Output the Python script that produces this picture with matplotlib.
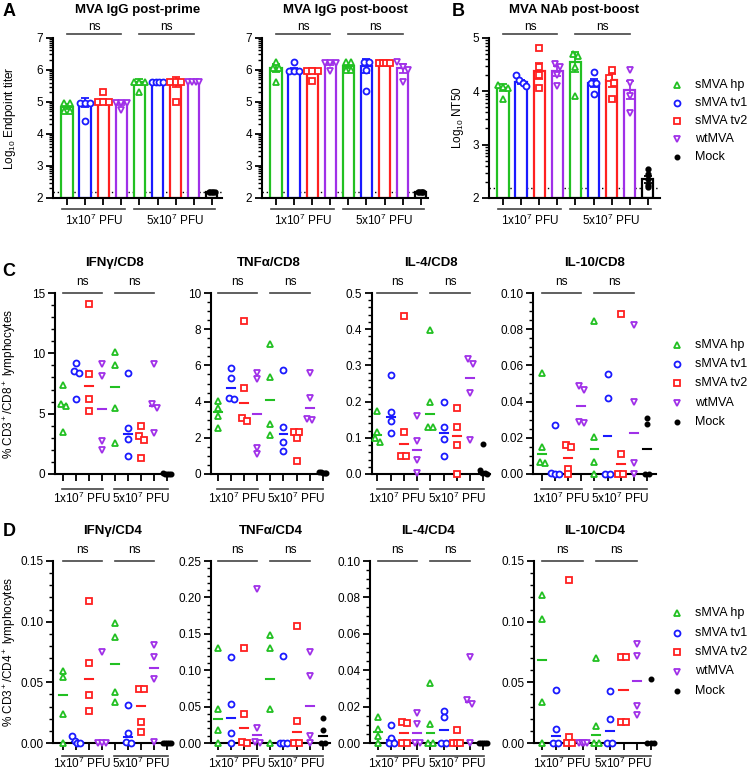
import numpy as np
import matplotlib.pyplot as plt
from matplotlib.lines import Line2D
from matplotlib.ticker import MultipleLocator, FixedLocator, FormatStrFormatter

plt.rcParams['font.family'] = ['Liberation Sans', 'DejaVu Sans']
plt.rcParams['mathtext.fontset'] = 'custom'
plt.rcParams['mathtext.rm'] = 'Liberation Sans'
plt.rcParams['mathtext.it'] = 'Liberation Sans:italic'
plt.rcParams['mathtext.bf'] = 'Liberation Sans:bold'

W, H = 750, 772

groups = ['sMVA hp', 'sMVA tv1', 'sMVA tv2', 'wtMVA', 'Mock']
colors = ['#22c022', '#1a1aff', '#ff2020', '#a030e8', 'black']
markers = ['^', 'o', 's', 'v', 'o']
doses = ['1x10$^7$ PFU', '5x10$^7$ PFU']

# order of each list: 1e7 hp, tv1, tv2, wtMVA | 5e7 hp, tv1, tv2, wtMVA | mock
igg_prime = [[4.97, 4.97, 4.72, 4.72], [4.97, 4.97, 4.97, 4.4], [5.3, 5.0, 5.0, 5.0], [4.97, 4.97, 4.97, 4.75],
             [5.62, 5.62, 5.62, 5.3], [5.62, 5.62, 5.62, 5.62], [5.62, 5.62, 5.62, 5.0], [5.62, 5.62, 5.62, 5.62],
             [2.2, 2.2, 2.2, 2.2, 2.2]]
igg_boost = [[6.25, 6.05, 6.05, 5.63], [6.25, 5.97, 5.97, 5.97], [5.97, 5.97, 5.97, 5.65], [6.22, 6.22, 6.22, 5.95],
             [6.25, 6.25, 6.0, 6.0], [6.25, 6.25, 6.0, 5.35], [6.22, 6.22, 6.22, 6.22], [6.24, 6.09, 5.99, 5.62],
             [2.2, 2.2, 2.2, 2.2, 2.2]]
nab_boost = [[4.12, 4.08, 4.05, 3.85], [4.3, 4.2, 4.15, 4.1], [4.8, 4.45, 4.3, 4.05], [4.5, 4.45, 4.3, 4.1],
             [4.7, 4.65, 4.45, 3.9], [4.35, 4.15, 4.15, 3.95], [4.4, 4.25, 4.15, 3.85], [4.4, 4.15, 3.9, 3.6],
             [2.55, 2.45, 2.35, 2.25, 2.2]]

ifng_cd8 = [[7.35, 5.8, 5.6, 3.5], [9.2, 8.55, 8.4, 6.2], [14.1, 8.3, 6.25, 5.2], [9.1, 8.1, 2.7, 1.95],
            [10.1, 9.0, 5.5, 2.6], [8.4, 3.8, 2.9, 1.5], [4.0, 3.15, 2.8, 1.35], [9.15, 5.8, 5.5, 3.4],
            [0.05, 0.03, 0.02, 0.01, 0.0]]
tnfa_cd8 = [[4.05, 3.62, 3.22, 2.52], [5.85, 5.28, 4.18, 4.13], [8.47, 4.76, 3.12, 2.92], [5.6, 5.26, 1.42, 1.13],
            [7.2, 5.35, 2.79, 2.18], [5.76, 2.6, 1.79, 1.25], [2.33, 2.3, 2.0, 0.7], [5.6, 4.2, 3.05, 3.0],
            [0.12, 0.1, 0.08, 0.07, 0.06]]
il4_cd8 = [[0.174, 0.117, 0.099, 0.088], [0.274, 0.170, 0.147, 0.113], [0.437, 0.116, 0.051, 0.051],
           [0.161, 0.09, 0.04, 0.004], [0.398, 0.2, 0.129, 0.129], [0.2, 0.131, 0.098, 0.05],
           [0.181, 0.129, 0.081, 0.0], [0.317, 0.304, 0.225, 0.093], [0.082, 0.011, 0.004, 0.002, 0.0]]
il10_cd8 = [[0.0557, 0.0151, 0.0068, 0.0063], [0.027, 0.0005, 0.0, 0.0], [0.0162, 0.0151, 0.003, 0.0],
            [0.0487, 0.0465, 0.029, 0.028], [0.0843, 0.0203, 0.0068, 0.0], [0.055, 0.0419, 0.0, 0.0],
            [0.0884, 0.0109, 0.0, 0.0], [0.0825, 0.0399, 0.0059, 0.0], [0.0308, 0.0277, 0.0, 0.0]]

ifng_cd4 = [[0.0592, 0.0545, 0.024, 0.0], [0.0055, 0.0015, 0.0, 0.0], [0.117, 0.066, 0.0394, 0.0267],
            [0.0749, 0.0, 0.0, 0.0], [0.0985, 0.0875, 0.042, 0.034], [0.031, 0.0083, 0.001, 0.0],
            [0.0443, 0.0443, 0.0173, 0.009], [0.0806, 0.0707, 0.053, 0.001], [0.0, 0.0, 0.0, 0.0, 0.0]]
tnfa_cd4 = [[0.131, 0.047, 0.018, 0.0], [0.118, 0.0537, 0.0138, 0.0], [0.130, 0.040, 0.002, 0.0],
            [0.211, 0.0206, 0.002, 0.0], [0.149, 0.130, 0.047, 0.0], [0.120, 0.0, 0.0, 0.0],
            [0.161, 0.030, 0.0, 0.0], [0.125, 0.092, 0.009, 0.0], [0.034, 0.018, 0.0, 0.0]]
il4_cd4 = [[0.0141, 0.0079, 0.004, 0.0], [0.0101, 0.0028, 0.0, 0.0], [0.0114, 0.011, 0.0, 0.0],
           [0.0165, 0.0105, 0.0, 0.0], [0.0327, 0.0105, 0.0, 0.0], [0.0178, 0.0143, 0.0, 0.0],
           [0.0073, 0.0, 0.0, 0.0], [0.0472, 0.0235, 0.0217, 0.0], [0.0, 0.0, 0.0, 0.0, 0.0]]
il10_cd4 = [[0.122, 0.1024, 0.0339, 0.0], [0.0438, 0.0116, 0.0, 0.0], [0.134, 0.005, 0.0, 0.0],
            [0.0, 0.0, 0.0, 0.0], [0.0702, 0.0138, 0.0, 0.0], [0.0432, 0.0198, 0.0, 0.0],
            [0.0705, 0.0705, 0.0176, 0.0176], [0.082, 0.0721, 0.0308, 0.0231], [0.0528, 0.0, 0.0, 0.0]]

fig = plt.figure(figsize=(W / 100, H / 100), dpi=100)


def px_axes(left, right, top, bottom):
    ax = fig.add_axes([left / W, 1 - bottom / H, (right - left) / W, (bottom - top) / H])
    ax.patch.set_alpha(0)
    return ax


def spread(vals, px_unit, px_cat, size=5.5, maxw=0.32):
    vals = np.asarray(vals, float)
    order = np.argsort(-vals, kind='stable')
    offs = np.zeros(len(vals))
    clusters = []
    for i in order:
        if clusters and abs(vals[clusters[-1][-1]] - vals[i]) * px_unit < size:
            clusters[-1].append(i)
        else:
            clusters.append([i])
    for c in clusters:
        n = len(c)
        if n > 1:
            step = min(size / px_cat, 2 * maxw / (n - 1))
            for j, i in enumerate(c):
                offs[i] = (j - (n - 1) / 2) * step
    return offs


def style(ax, ylim, xlim, major, minor, fmt):
    for s in ['top', 'right']:
        ax.spines[s].set_visible(False)
    ax.spines['left'].set_linewidth(1.5)
    ax.spines['bottom'].set_linewidth(1.5)
    ax.set_ylim(ylim)
    ax.set_xlim(xlim)
    ax.yaxis.set_major_locator(MultipleLocator(major))
    ax.yaxis.set_minor_locator(minor)
    ax.yaxis.set_major_formatter(FormatStrFormatter(fmt))
    ax.set_xticks(range(9))
    ax.set_xticklabels([])
    ax.tick_params(axis='both', which='major', length=5, width=1.3, labelsize=8.5, pad=2)
    ax.tick_params(axis='y', which='minor', length=3, width=1.0)


def annotate(ax, box, ns_line, ns_text, g_line, g_text, ext):
    h = box[3] - box[2]
    tr = ax.get_xaxis_transform()
    for a, b in [(0, 3), (4, 7)]:
        ax.plot([a, b], [1 + ns_line / h] * 2, transform=tr, color='#444444', lw=1.2, clip_on=False)
        ax.text((a + b) / 2, 1 + ns_text / h, 'ns', transform=tr, ha='center', va='center', fontsize=8.5)
    for (a, b), lab in zip([(0, 3), (4, 8)], doses):
        ax.plot([a - ext[0], b + ext[1]], [-g_line / h] * 2, transform=tr, color='#444444', lw=1.2, clip_on=False)
        ax.text((a + b) / 2, -g_text / h, lab, transform=tr, ha='center', va='center', fontsize=8.5)


def bar_panel(box, data, ylim, xlim, title, ylabel=None):
    ax = px_axes(*box)
    style(ax, ylim, xlim, 1,
          FixedLocator([d + np.log10(k) for d in range(int(ylim[0]), int(ylim[1])) for k in range(2, 10)]), '%d')
    px_unit = (box[3] - box[2]) / (ylim[1] - ylim[0])
    px_cat = (box[1] - box[0]) / (xlim[1] - xlim[0])
    ax.axhline(2.18, color='black', lw=1.0, ls=(0, (1, 2)), zorder=1)
    for i, vals in enumerate(data):
        g = i % 4 if i < 8 else 4
        c = colors[g]
        med = np.median(vals)
        ax.bar(i, med - ylim[0], bottom=ylim[0], width=0.62, facecolor='white', edgecolor=c, linewidth=1.6, zorder=2)
        sem = np.std(vals, ddof=1) / np.sqrt(len(vals))
        if sem > 0:
            ax.errorbar(i, med, yerr=sem, color=c, capsize=3, lw=1.3, capthick=1.3, zorder=2)
        offs = spread(vals, px_unit, px_cat, size=5.5 if g < 4 else 2.5, maxw=0.3 if g < 4 else 0.15)
        ax.plot(i + offs, vals, ls='none', marker=markers[g], mfc=c if g == 4 else 'white', mec=c,
                ms=3.2 if g == 4 else 4.3, mew=1.3, zorder=3, clip_on=False)
    annotate(ax, box, 3.5, 11, 11, 22, (0.3, 0.2))
    cx = (box[0] + box[1]) / 2
    fig.text(cx / W, 1 - 10 / H, title, ha='center', va='center', fontsize=9.5, fontweight='bold')
    if ylabel:
        fig.text(10 / W, 1 - (box[2] + box[3]) / 2 / H, ylabel, ha='center', va='center', rotation=90, fontsize=8.5)
    return ax


def dot_panel(box, data, ylim, xlim, major, minor, fmt, title, title_y, ylabel=None, glab=(15, 24)):
    ax = px_axes(*box)
    style(ax, ylim, xlim, major, MultipleLocator(minor), fmt)
    px_unit = (box[3] - box[2]) / (ylim[1] - ylim[0])
    px_cat = (box[1] - box[0]) / (xlim[1] - xlim[0])
    for i, vals in enumerate(data):
        g = i % 4 if i < 8 else 4
        c = colors[g]
        med = np.median(vals)
        ax.plot([i - 0.3, i + 0.3], [med, med], color=c, lw=1.5, zorder=2, clip_on=False)
        offs = spread(vals, px_unit, px_cat, size=5.0 if g < 4 else 3.5, maxw=0.28)
        ax.plot(i + offs, vals, ls='none', marker=markers[g], mfc=c if g == 4 else 'white', mec=c,
                ms=3.0 if g == 4 else 4.3, mew=1.3, zorder=3, clip_on=False)
    annotate(ax, box, 0.5, 11, glab[0], glab[1], (0.05, 0.05))
    cx = (box[0] + box[1]) / 2
    fig.text(cx / W, 1 - title_y / H, title, ha='center', va='center', fontsize=9.5, fontweight='bold')
    if ylabel:
        fig.text(10 / W, 1 - (box[2] + box[3]) / 2 / H, ylabel, ha='center', va='center', rotation=90, fontsize=8.5)
    return ax


# row A / B
bar_panel((53, 222, 37.7, 198), igg_prime, (2, 7), (-0.77, 8.56), 'MVA IgG post-prime', 'Log$_{10}$ Endpoint titer')
bar_panel((262, 428, 37.7, 198), igg_boost, (2, 7), (-0.77, 8.4), 'MVA IgG post-boost')
bar_panel((489, 660, 37.7, 198), nab_boost, (2, 5), (-0.77, 8.67), 'MVA NAb post-boost')
fig.text(458 / W, 1 - 118 / H, 'Log$_{10}$ NT50', ha='center', va='center', rotation=90, fontsize=8.5)

# row C
dot_panel((55, 173, 293, 474), ifng_cd8, (0, 15), (-0.62, 8.46), 5, 1, '%d', 'IFN\u03b3/CD8', 263,
          '% CD3$^+$/CD8$^+$ lymphocytes')
dot_panel((211, 327, 293, 474), tnfa_cd8, (0, 10), (-0.53, 8.32), 2, 0.5, '%d', 'TNF\u03b1/CD8', 263)
dot_panel((372, 490, 293, 474), il4_cd8, (0, 0.5), (-0.4, 8.5), 0.1, 0.02, '%.1f', 'IL-4/CD8', 263)
dot_panel((533, 656, 293, 474), il10_cd8, (0, 0.10), (-0.69, 8.7), 0.02, 0.005, '%.2f', 'IL-10/CD8', 263)

# row D
dot_panel((53, 173, 561, 743), ifng_cd4, (0, 0.15), (-0.77, 8.46), 0.05, 0.01, '%.2f', 'IFN\u03b3/CD4', 531,
          '% CD3$^+$/CD4$^+$ lymphocytes', glab=(13, 20.5))
dot_panel((211, 330, 561, 743), tnfa_cd4, (0, 0.25), (-0.53, 8.55), 0.05, 0.01, '%.2f', 'TNF\u03b1/CD4', 531,
          glab=(13, 20.5))
dot_panel((370, 487, 561, 743), il4_cd4, (0, 0.10), (-0.6, 8.3), 0.02, 0.005, '%.2f', 'IL-4/CD4', 531,
          glab=(13, 20.5))
dot_panel((534, 656, 561, 743), il10_cd4, (0, 0.15), (-0.61, 8.4), 0.05, 0.01, '%.2f', 'IL-10/CD4', 531,
          glab=(13, 20.5))

# panel letters
for letter, x, y in [('A', 9, 12), ('B', 458, 12), ('C', 9, 272), ('D', 9, 532)]:
    fig.text(x / W, 1 - y / H, letter, ha='center', va='center', fontsize=13, fontweight='bold')

# legends
for y0, step in [(85, 18), (345, 19.2), (613, 19.5)]:
    for k, name in enumerate(groups):
        y = 1 - (y0 + k * step) / H
        fig.add_artist(Line2D([677 / W], [y], marker=markers[k], ls='none',
                              mfc=colors[k] if k == 4 else 'white', mec=colors[k],
                              ms=3.0 if k == 4 else 4.3, mew=1.3, transform=fig.transFigure))
        fig.text(695 / W, y, name, ha='left', va='center', fontsize=9)

fig.savefig('out.png', dpi=100)
